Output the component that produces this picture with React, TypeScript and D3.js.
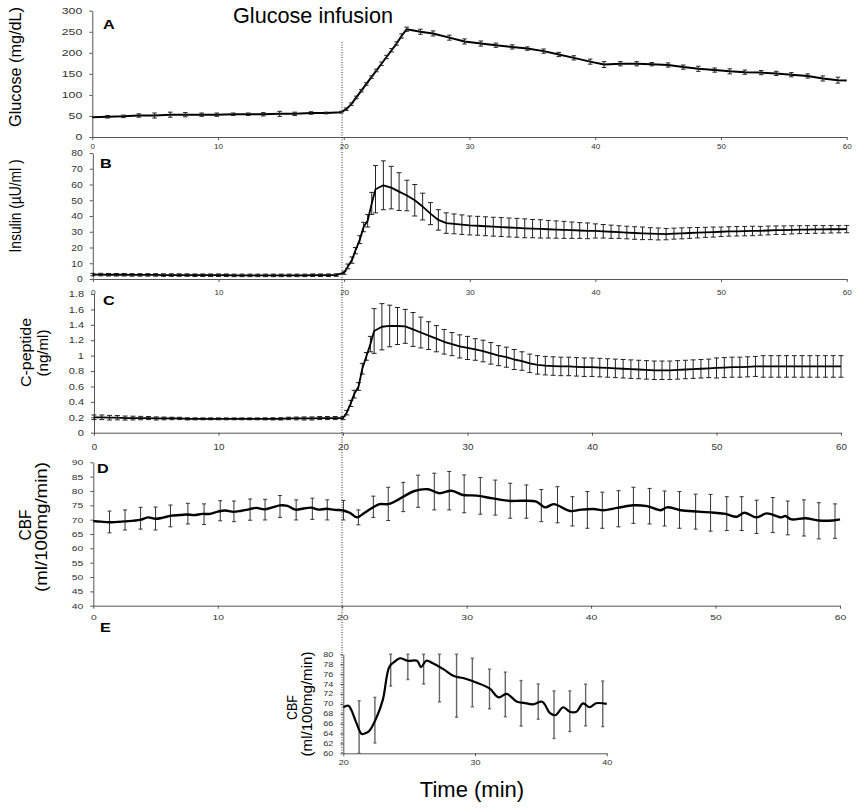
import React, { useEffect, useRef } from 'react';
import * as d3 from 'd3';

// ---- A: glucose (mg/dL) ----
const glucoseTime = [
  0, 1.22, 2.47, 3.7, 4.95, 6.2, 7.4, 8.7, 9.9, 11.2,
  12.4, 13.6, 14.9, 16.1, 17.4, 18.6, 19.8,
  20.2, 20.6, 21.0, 21.4, 21.8, 22.2, 22.6, 23.0, 23.4, 23.8, 24.2, 24.6, 25.0,
  26.1, 27.1, 28.4, 29.6, 30.9, 32.1, 33.4, 34.6, 35.9, 37.1,
  38.3, 39.6, 40.7, 42.0, 43.3, 44.5, 45.8, 47.0, 48.2, 49.5,
  50.7, 51.9, 53.2, 54.4, 55.6, 56.9, 58.1, 59.3, 60,
];
const glucoseMean = [
  47, 48, 49, 51, 51, 53, 53, 53, 53, 54,
  54, 54, 55, 55, 57, 57, 59,
  66, 78, 94, 110, 126, 142, 158, 174, 190, 206, 222, 240, 256,
  250, 246, 236, 227, 222, 218, 214, 210, 204, 196,
  188, 179, 172, 174, 174, 173, 171, 166, 162, 159,
  156, 154, 153, 151, 148, 145, 139, 135, 134,
];
const glucoseErr = [
  0, 3, 3, 4, 6, 6, 5, 4, 4, 3,
  3, 4, 6, 4, 3, 2, 2,
  3, 3, 3, 3, 3, 3, 3, 4, 4, 4, 4, 5, 5,
  6, 6, 6, 6, 6, 5, 5, 4, 5, 5,
  5, 6, 7, 5, 5, 4, 5, 5, 6, 5,
  6, 5, 5, 5, 5, 5, 6, 7, 0,
];

// ---- B / C: insulin and C-peptide share the sampling times ----
const hormoneTime = [
  0, 0.625, 1.25, 1.875, 2.5, 3.125, 3.75, 4.375, 5, 5.625,
  6.25, 6.875, 7.5, 8.125, 8.75, 9.375, 10, 10.625, 11.25, 11.875,
  12.5, 13.125, 13.75, 14.375, 15, 15.625, 16.25, 16.875, 17.5, 18.125,
  18.75, 19.375,
  20, 20.3, 20.625, 20.9, 21.25, 21.55, 21.875, 22.2, 22.5,
  23.125, 23.75, 24.375, 25, 25.625, 26.25, 26.875, 27.5, 28.125, 28.75,
  29.375, 30, 30.625, 31.25, 31.875, 32.5, 33.125, 33.75, 34.375, 35,
  35.625, 36.25, 36.875, 37.5, 38.125, 38.75, 39.375, 40, 40.625, 41.25,
  41.875, 42.5, 43.125, 43.75, 44.375, 45, 45.625, 46.25, 46.875, 47.5,
  48.125, 48.75, 49.375, 50, 50.625, 51.25, 51.875, 52.5, 53.125, 53.75,
  54.375, 55, 55.625, 56.25, 56.875, 57.5, 58.125, 58.75, 59.375, 60,
];
const insulinMean = [
  2.8, 2.8, 2.7, 2.7, 2.7, 2.6, 2.6, 2.6, 2.6, 2.5,
  2.5, 2.5, 2.5, 2.4, 2.4, 2.4, 2.4, 2.4, 2.3, 2.3,
  2.3, 2.3, 2.3, 2.3, 2.3, 2.3, 2.3, 2.3, 2.4, 2.4,
  2.4, 2.5,
  4, 8, 12, 18, 25, 33, 37, 48, 57,
  59.5, 58, 55.5, 53, 50, 46, 41.5, 37.5, 35.5, 35,
  34.5, 34, 33.8, 33.5, 33.2, 33, 32.7, 32.5, 32.2, 32,
  31.8, 31.6, 31.4, 31.2, 31, 30.8, 30.6, 30.5, 30.3, 30,
  29.8, 29.5, 29.2, 29, 28.8, 28.6, 28.5, 28.8, 29, 29.2,
  29.4, 29.6, 29.8, 30, 30.2, 30.3, 30.4, 30.5, 30.6, 30.8,
  31, 31, 31.2, 31.3, 31.4, 31.5, 31.5, 31.6, 31.6, 31.7,
];
const insulinErr = [
  0.8, 0.8, 0.8, 0.8, 0.8, 0.8, 0.8, 0.8, 0.8, 0.8,
  0.8, 0.8, 0.8, 0.8, 0.8, 0.8, 0.8, 0.8, 0.8, 0.8,
  0.8, 0.8, 0.8, 0.8, 0.8, 0.8, 0.8, 0.8, 0.8, 0.8,
  0.8, 0.8,
  1, 1.5, 2, 2, 2.5, 3, 4, 7, 15,
  15.5, 13.5, 12, 9.7, 10, 8.5, 7, 6.5, 6.5, 6.3,
  6.2, 6, 6, 6, 6, 6, 6, 6, 6, 5.8,
  5.8, 5.6, 5.5, 5.4, 5.2, 5, 5, 4.5, 4.3, 4.2,
  4, 4, 4, 4, 3.8, 3.8, 3.6, 3.5, 3.5, 3.4,
  3.3, 3.2, 3.2, 3, 3, 3, 3, 3, 2.8, 2.8,
  2.7, 2.7, 2.6, 2.5, 2.5, 2.5, 2.4, 2.4, 2.3, 2.3,
];
const cpepMean = [
  0.2, 0.2, 0.195, 0.195, 0.19, 0.19, 0.19, 0.19, 0.185, 0.185,
  0.185, 0.185, 0.18, 0.18, 0.18, 0.18, 0.18, 0.18, 0.18, 0.18,
  0.18, 0.18, 0.18, 0.18, 0.18, 0.185, 0.185, 0.185, 0.185, 0.19,
  0.19, 0.19,
  0.19, 0.26, 0.38, 0.5, 0.6, 0.83, 0.99, 1.15, 1.32,
  1.375, 1.385, 1.385, 1.38, 1.34, 1.3, 1.26, 1.22, 1.18, 1.15,
  1.12, 1.1, 1.08, 1.06, 1.03, 1.0, 0.98, 0.95, 0.93, 0.9,
  0.88, 0.87, 0.865, 0.86, 0.86, 0.855, 0.85, 0.85, 0.845, 0.84,
  0.835, 0.83, 0.825, 0.82, 0.815, 0.81, 0.81, 0.81, 0.815, 0.82,
  0.825, 0.83, 0.835, 0.84, 0.845, 0.85, 0.85, 0.855, 0.86, 0.86,
  0.86, 0.86, 0.86, 0.86, 0.86, 0.86, 0.86, 0.86, 0.86, 0.86,
];
const cpepErr = [
  0.03, 0.03, 0.03, 0.028, 0.026, 0.024, 0.022, 0.02, 0.02, 0.018,
  0.016, 0.015, 0.014, 0.013, 0.012, 0.012, 0.012, 0.012, 0.012, 0.012,
  0.012, 0.012, 0.013, 0.014, 0.015, 0.016, 0.018, 0.02, 0.02, 0.02,
  0.02, 0.02,
  0.02, 0.03, 0.04, 0.05, 0.05, 0.07, 0.05, 0.1, 0.29,
  0.3, 0.27, 0.24, 0.22, 0.22, 0.2, 0.18, 0.17, 0.16, 0.15,
  0.15, 0.15, 0.14, 0.14, 0.14, 0.13, 0.13, 0.13, 0.12, 0.12,
  0.12, 0.12, 0.12, 0.12, 0.12, 0.12, 0.12, 0.12, 0.12, 0.12,
  0.12, 0.12, 0.12, 0.12, 0.12, 0.12, 0.12, 0.12, 0.12, 0.12,
  0.12, 0.12, 0.12, 0.13, 0.13, 0.13, 0.13, 0.13, 0.13, 0.14,
  0.14, 0.14, 0.14, 0.14, 0.14, 0.14, 0.14, 0.14, 0.14, 0.14,
];

// ---- D: CBF, whole session ----
const cbfTime = [
  0, 0.6, 1.3, 2.5, 3.75, 4.4, 5.0, 5.6, 6.25, 7.0,
  7.5, 8.1, 8.75, 9.4, 10, 10.6, 11.25, 11.9, 12.5, 13.1,
  13.75, 14.4, 15, 15.6, 16.25, 16.9, 17.5, 18.1, 18.75, 19.4,
  20, 20.6, 21.2, 21.8, 22.5, 23.0, 23.7, 24.3, 24.9, 25.8,
  26.9, 27.8, 28.8, 29.7, 30.8, 32.1, 33.5, 34.4, 35.6, 36.3,
  37, 38.3, 39.2, 40.2, 41.0, 42.1, 43.4, 44.5, 45.6, 46.1,
  47.2, 48.6, 49.9, 50.8, 51.7, 52.3, 53.3, 54.1, 55.3, 55.6,
  56.1, 57.2, 58.3, 59.4, 60,
];
const cbfMean = [
  69.5, 69.3, 69.1, 69.4, 69.9, 70.8, 70.3, 70.7, 71.4, 71.6,
  71.8, 71.6, 72, 72, 72.8, 73.2, 72.7, 73.1, 73.6, 74.1,
  73.6, 74.3, 75, 74.8, 73.5, 73.9, 74.2, 73.5, 73.8, 73.4,
  73.3, 72.4, 70.8, 72.4, 74.3, 75.4, 75.4, 76.5, 78, 80,
  80.6, 79.2, 80.1, 78.6, 78.4, 77.4, 76.5, 76.6, 76.3, 74.3,
  75.4, 73, 73.5, 73.7, 73.3, 74.1, 75, 74.7, 73.3, 74.3,
  73.3, 72.8, 72.4, 72, 71, 72.4, 70.8, 72.2, 70.8, 71.3,
  70.1, 70.5, 69.7, 69.7, 70.1,
];
const cbfBarTime = [
  1.3, 2.55, 3.8, 5.0, 6.2, 7.6, 8.9, 10.2, 11.3, 12.6,
  13.8, 15.0, 16.3, 17.6, 18.8, 20.1, 21.3, 22.5, 23.7, 24.9,
  26.1, 27.4, 28.6, 29.8, 31.1, 32.3, 33.5, 34.8, 36.0, 37.3,
  38.5, 39.7, 40.9, 42.2, 43.4, 44.7, 45.9, 47.1, 48.4, 49.6,
  50.9, 52.1, 53.3, 54.6, 55.8, 57.1, 58.3, 59.6,
];
const cbfBarMean = [
  69.2, 69.9, 70.5, 70.4, 71.3, 72.1, 71.9, 73.1, 72.9, 73.5,
  73.5, 74.6, 73.4, 73.8, 73.4, 73.3, 70.8, 74.5, 75.5, 77.9,
  79.9, 79.8, 80.1, 79.0, 78.3, 77.7, 76.6, 76.3, 74.9, 75.2,
  72.9, 73.4, 73.3, 73.8, 75.0, 74.7, 73.9, 73.4, 72.8, 72.4,
  72.1, 72.1, 71.0, 71.6, 70.6, 70.6, 69.6, 69.5,
];
const cbfBarErr = [
  3.8, 3.5, 3.8, 4.0, 3.8, 3.6, 3.6, 3.5, 3.6, 3.7,
  3.6, 3.8, 3.5, 3.7, 3.5, 3.4, 2.6, 3.7, 5.8, 5.1,
  5.6, 6.4, 6.7, 6.6, 6.4, 6.1, 6.1, 5.8, 5.6, 6.3,
  5.1, 6.4, 6.3, 6.3, 6.3, 6.2, 6.1, 6.4, 6.1, 6.4,
  5.9, 5.9, 5.8, 6.1, 5.9, 6.3, 6.3, 6.0,
];

// ---- E: CBF, 20-40 min ----
const zoomTime = [
  20, 20.4, 20.6, 21.0, 21.4, 21.8, 22.0, 22.5, 23.0, 23.5,
  23.9, 24.3, 24.9, 25.6, 25.9, 26.3, 26.8, 27.6, 28.4, 29.1,
  30.1, 31.1, 31.8, 32.4, 33.2, 33.7, 34.4, 35.1, 35.7, 36.1,
  36.7, 37.2, 37.7, 38.2, 38.7, 39.2, 40,
];
const zoomMean = [
  69.3, 69.6, 68.8, 66.1, 63.9, 64.2, 64.6, 67.1, 70.8, 77.5,
  78.5, 79.2, 78.7, 78.7, 77.4, 78.7, 78.2, 77, 75.6, 75.2,
  74.3, 73.1, 71.3, 72, 70.4, 70.2, 69.9, 70.4, 68.1, 67.7,
  69.3, 68.4, 68.4, 70.1, 69.3, 70.1, 70,
];
const zoomBarTime = [
  21.2, 22.4, 23.6, 24.9, 26.1, 27.3, 28.6, 29.8,
  31.1, 32.3, 33.5, 34.8, 36.0, 37.2, 38.4, 39.7,
];
const zoomBarMean = [
  64, 66.7, 77.5, 78.7, 78, 77.2, 75.6, 74.3,
  73, 71.9, 70.1, 70.45, 67.8, 68.5, 69.75, 70,
];
const zoomBarErr = [
  6.6, 4.6, 3.9, 3.8, 4, 6.8, 8.3, 4.9,
  4, 4.5, 4.6, 3.55, 4.8, 4.1, 4.2, 4.6,
];

const minuteTicks = [0, 10, 20, 30, 40, 50, 60];
const zoomMinuteTicks = [20, 30, 40];
const glucoseTicks = [0, 50, 100, 150, 200, 250, 300];
const insulinTicks = [0, 10, 20, 30, 40, 50, 60, 70, 80];
const cpepTicks = [0, 0.2, 0.4, 0.6, 0.8, 1, 1.2, 1.4, 1.6, 1.8];
const cbfTicks = [40, 45, 50, 55, 60, 65, 70, 75, 80, 85, 90];
const zoomCbfTicks = [60, 62, 64, 66, 68, 70, 72, 74, 76, 78, 80];

const FONT = "'Liberation Sans', Arial, Helvetica, sans-serif";
const AXIS = '#555';
const TICK = '#333';

interface Panel {
  xDomain: [number, number];
  xRange: [number, number];
  yDomain: [number, number];
  yRange: [number, number];
  xTicks: number[];
  yTicks: number[];
  yFormat: (d: number) => string;
  yFont: number;
  ySx: number;
  xFont: number;
  xSx: number;
  xPad: number;
}

type G = d3.Selection<SVGGElement, unknown, null, undefined>;

function drawAxes(g: G, p: Panel) {
  const x = d3.scaleLinear().domain(p.xDomain).range(p.xRange);
  const y = d3.scaleLinear().domain(p.yDomain).range(p.yRange);

  const ya = g
    .append('g')
    .attr('transform', `translate(${p.xRange[0]},0)`)
    .call(
      d3
        .axisLeft(y)
        .tickValues(p.yTicks)
        .tickFormat((d) => p.yFormat(d as number))
        .tickSize(3)
        .tickSizeOuter(0)
    );
  ya.attr('font-family', FONT).attr('font-size', p.yFont);
  ya.select('.domain').attr('stroke', AXIS);
  ya.selectAll('.tick line').attr('stroke', AXIS);
  ya.selectAll('.tick text')
    .attr('fill', TICK)
    .attr('x', -10 / p.ySx)
    .attr('transform', `scale(${p.ySx},1)`);

  const xa = g
    .append('g')
    .attr('transform', `translate(0,${p.yRange[0]})`)
    .call(d3.axisBottom(x).tickValues(p.xTicks).tickFormat(d3.format('d')).tickSize(3).tickSizeOuter(0).tickPadding(p.xPad));
  xa.attr('font-family', FONT).attr('font-size', p.xFont);
  xa.select('.domain').attr('stroke', AXIS);
  xa.selectAll('.tick line').attr('stroke', AXIS);
  xa.selectAll('.tick text').attr('fill', TICK).attr('transform', `scale(${p.xSx},1)`);

  return { x, y };
}

function drawSeries(
  g: G,
  x: d3.ScaleLinear<number, number>,
  y: d3.ScaleLinear<number, number>,
  time: number[],
  mean: number[],
  opts: { width: number; curve?: d3.CurveFactory }
) {
  const line = d3
    .line<number>()
    .x((_, i) => x(time[i]))
    .y((d) => y(d))
    .curve(opts.curve || d3.curveLinear);
  g.append('path')
    .attr('d', line(mean) || '')
    .attr('fill', 'none')
    .attr('stroke', '#000')
    .attr('stroke-width', opts.width)
    .attr('stroke-linejoin', 'round');
}

function drawErrors(
  g: G,
  x: d3.ScaleLinear<number, number>,
  y: d3.ScaleLinear<number, number>,
  time: number[],
  mean: number[],
  err: number[],
  opts: { cap: number; color: string; width: number }
) {
  const [lo, hi] = y.domain();
  const bars = time
    .map((t, i) => ({ t, top: Math.min(hi, mean[i] + err[i]), bot: Math.max(lo, mean[i] - err[i]), e: err[i] }))
    .filter((d) => d.e > 0);
  const eg = g.append('g').attr('stroke', opts.color).attr('stroke-width', opts.width);
  eg.selectAll('.stem')
    .data(bars)
    .enter()
    .append('line')
    .attr('x1', (d) => x(d.t))
    .attr('x2', (d) => x(d.t))
    .attr('y1', (d) => y(d.top))
    .attr('y2', (d) => y(d.bot));
  eg.selectAll('.capTop')
    .data(bars)
    .enter()
    .append('line')
    .attr('x1', (d) => x(d.t) - opts.cap / 2)
    .attr('x2', (d) => x(d.t) + opts.cap / 2)
    .attr('y1', (d) => y(d.top))
    .attr('y2', (d) => y(d.top));
  eg.selectAll('.capBot')
    .data(bars)
    .enter()
    .append('line')
    .attr('x1', (d) => x(d.t) - opts.cap / 2)
    .attr('x2', (d) => x(d.t) + opts.cap / 2)
    .attr('y1', (d) => y(d.bot))
    .attr('y2', (d) => y(d.bot));
}

function vLabel(g: G, text: string, x: number, y: number, size: number, len?: number) {
  const t = g
    .append('text')
    .attr('transform', `translate(${x},${y}) rotate(-90)`)
    .attr('text-anchor', 'middle')
    .attr('font-family', FONT)
    .attr('font-size', size)
    .attr('fill', '#000')
    .text(text);
  if (len) t.attr('textLength', len).attr('lengthAdjust', 'spacingAndGlyphs');
}

function panelLetter(g: G, letter: string, x: number, y: number) {
  g.append('text')
    .attr('transform', `translate(${x},${y}) scale(1.3,1)`)
    .attr('font-family', FONT)
    .attr('font-weight', 'bold')
    .attr('font-size', 12.5)
    .text(letter);
}

const App: React.FC = () => {
  const chartRef = useRef<SVGSVGElement | null>(null);

  useEffect(() => {
    if (!chartRef.current) return;
    const svg = d3.select(chartRef.current);
    svg.selectAll('*').remove();
    const root = svg.append('g') as unknown as G;

    // A
    const a = drawAxes(root, {
      xDomain: [0, 60], xRange: [92.3, 846.7], yDomain: [0, 300], yRange: [137, 10.7],
      xTicks: minuteTicks, yTicks: glucoseTicks, yFormat: d3.format('d'),
      yFont: 8.5, ySx: 1.45, xFont: 7, xSx: 1.15, xPad: 4,
    });
    drawSeries(root, a.x, a.y, glucoseTime, glucoseMean, { width: 2 });
    drawErrors(root, a.x, a.y, glucoseTime, glucoseMean, glucoseErr, { cap: 4.5, color: '#222', width: 1 });

    // B
    const b = drawAxes(root, {
      xDomain: [0, 60], xRange: [92.8, 846.7], yDomain: [0, 80], yRange: [279, 153],
      xTicks: minuteTicks, yTicks: insulinTicks, yFormat: d3.format('d'),
      yFont: 9, ySx: 1.15, xFont: 7, xSx: 1.15, xPad: 8,
    });
    drawErrors(root, b.x, b.y, hormoneTime, insulinMean, insulinErr, { cap: 5, color: '#222', width: 1 });
    drawSeries(root, b.x, b.y, hormoneTime, insulinMean, { width: 1.8 });

    // C
    const c = drawAxes(root, {
      xDomain: [0, 60], xRange: [94, 841], yDomain: [0, 1.8], yRange: [432.7, 294],
      xTicks: minuteTicks, yTicks: cpepTicks, yFormat: (d) => String(+d.toFixed(1)),
      yFont: 8.5, ySx: 1.3, xFont: 8.5, xSx: 1.15, xPad: 8,
    });
    drawErrors(root, c.x, c.y, hormoneTime, cpepMean, cpepErr, { cap: 5, color: '#222', width: 1 });
    drawSeries(root, c.x, c.y, hormoneTime, cpepMean, { width: 1.8 });

    // D
    const d = drawAxes(root, {
      xDomain: [0, 60], xRange: [93.3, 840], yDomain: [40, 90], yRange: [605.7, 462.3],
      xTicks: minuteTicks, yTicks: cbfTicks, yFormat: d3.format('d'),
      yFont: 8, ySx: 1.3, xFont: 8, xSx: 1.3, xPad: 5.5,
    });
    drawErrors(root, d.x, d.y, cbfBarTime, cbfBarMean, cbfBarErr, { cap: 4, color: '#333', width: 1 });
    drawSeries(root, d.x, d.y, cbfTime, cbfMean, { width: 2.4, curve: d3.curveCatmullRom });

    // E
    const e = drawAxes(root, {
      xDomain: [20, 40], xRange: [343.3, 606.7], yDomain: [60, 80], yRange: [753.3, 654.3],
      xTicks: zoomMinuteTicks, yTicks: zoomCbfTicks, yFormat: d3.format('d'),
      yFont: 6.5, ySx: 1.4, xFont: 7, xSx: 1.3, xPad: 4,
    });
    drawErrors(root, e.x, e.y, zoomBarTime, zoomBarMean, zoomBarErr, { cap: 3, color: '#666', width: 1.4 });
    drawSeries(root, e.x, e.y, zoomTime, zoomMean, { width: 2.2, curve: d3.curveCatmullRom });

    // infusion start
    root
      .append('line')
      .attr('x1', 342)
      .attr('x2', 342)
      .attr('y1', 42)
      .attr('y2', 753)
      .attr('stroke', '#333')
      .attr('stroke-width', 1)
      .attr('stroke-dasharray', '1,1.5');

    root
      .append('text')
      .attr('x', 313)
      .attr('y', 23.3)
      .attr('text-anchor', 'middle')
      .attr('font-family', FONT)
      .attr('font-size', 21.5)
      .attr('textLength', 160)
      .attr('lengthAdjust', 'spacingAndGlyphs')
      .text('Glucose infusion');

    root
      .append('text')
      .attr('x', 472)
      .attr('y', 796.7)
      .attr('text-anchor', 'middle')
      .attr('font-family', FONT)
      .attr('font-size', 22)
      .text('Time (min)');

    vLabel(root, 'Glucose (mg/dL)', 20.5, 67, 16, 120);
    vLabel(root, 'Insulin (µU/ml )', 20.5, 206, 16, 93);
    vLabel(root, 'C-peptide', 30.5, 352.5, 15.5, 69);
    vLabel(root, '(ng/ml)', 48, 353, 15.5, 47);
    vLabel(root, 'CBF', 30.5, 525, 16, 31);
    vLabel(root, '(ml/100mg/min)', 46.5, 527, 16.5, 130);
    vLabel(root, 'CBF', 297, 707.5, 14, 25);
    vLabel(root, '(ml/100mg/min)', 311.5, 704, 14, 105);

    panelLetter(root, 'A', 103, 29.3);
    panelLetter(root, 'B', 100, 168.3);
    panelLetter(root, 'C', 103, 305);
    panelLetter(root, 'D', 97, 473);
    panelLetter(root, 'E', 100, 632);
  }, []);

  return (
    <svg
      ref={chartRef}
      width={862}
      height={809}
      style={{ position: 'absolute', left: 0, top: 0, background: '#fff' }}
    />
  );
};

export default App;
